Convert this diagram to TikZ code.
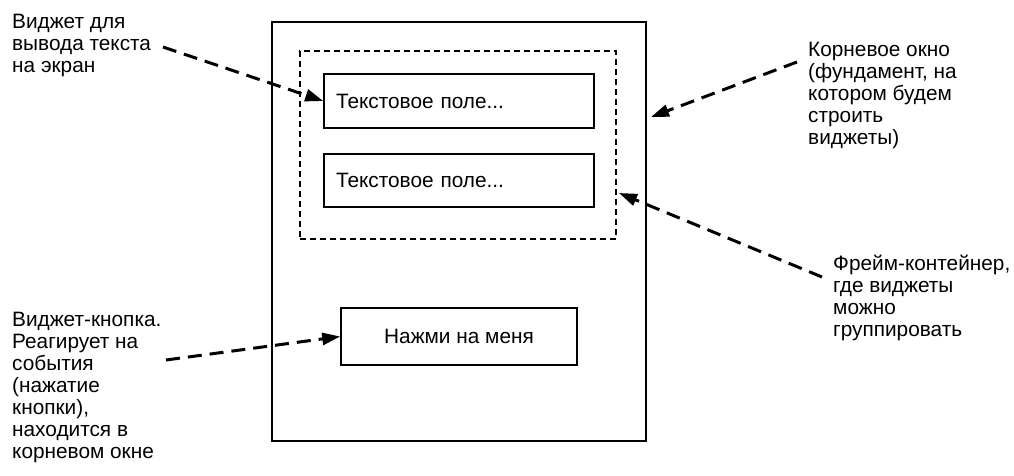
\documentclass[tikz,border=0pt]{standalone}
\usepackage{fontspec}
\setmainfont{Liberation Sans}
\usetikzlibrary{arrows.meta}
\begin{document}
\begin{tikzpicture}[x=1pt,y=-1pt,
  lbl/.style={inner sep=0pt,align=left,anchor=north west,font=\fontsize{20.8}{22}\selectfont},
  box/.style={draw,line width=1.6pt,inner ysep=0pt,font=\fontsize{20.8}{22}\selectfont},
  callout/.style={line width=3pt,dash pattern=on 14pt off 8pt,-{Triangle[length=18pt,width=12pt]}}
]
\useasboundingbox (0,0) rectangle (1014,475);
% outer root window
\node[draw,line width=2pt,minimum width=374pt,minimum height=419pt,inner sep=0pt] (root) at (459,231.5) {};
% frame container
\node[draw,line width=1.5pt,dash pattern=on 6pt off 4pt,minimum width=316pt,minimum height=188pt,inner sep=0pt] (frame) at (458,145) {};
% text fields
\node[box,minimum width=270pt,minimum height=54pt,text width=246pt,inner xsep=12pt,align=left] (t1) at (459,101) {Текстовое поле...};
\node[box,minimum width=270pt,minimum height=53pt,text width=246pt,inner xsep=12pt,align=left] (t2) at (459,180.5) {Текстовое поле...};
% button
\node[box,minimum width=236pt,minimum height=57pt,inner xsep=0pt] (btn) at (459,336.5) {Нажми на меня};
% labels
\node[lbl] (l1) at (12,14) {Виджет для\\вывода текста\\на экран};
\node[lbl] (l2) at (808,42) {Корневое окно\\(фундамент, на\\котором будем\\строить\\виджеты)};
\node[lbl] (l3) at (833,255) {Фрейм-контейнер,\\где виджеты\\можно\\группировать};
\node[lbl] (l4) at (12,312) {Виджет-кнопка.\\Реагирует на\\события\\(нажатие\\кнопки),\\находится в\\корневом окне};
% connector ends
\coordinate (s1) at (163,47);
\coordinate (s2) at (797,62);
\coordinate (e2) at (651,117);
\coordinate (s3) at (822,277);
\coordinate (e3) at (619,193);
\coordinate (s4) at (166,360);
% connectors
\draw[callout] (s1) -- (t1.west);
\draw[callout] (s2) -- (e2);
\draw[callout] (s3) -- (e3);
\draw[callout] (s4) -- (btn.west);
\end{tikzpicture}
\end{document}
